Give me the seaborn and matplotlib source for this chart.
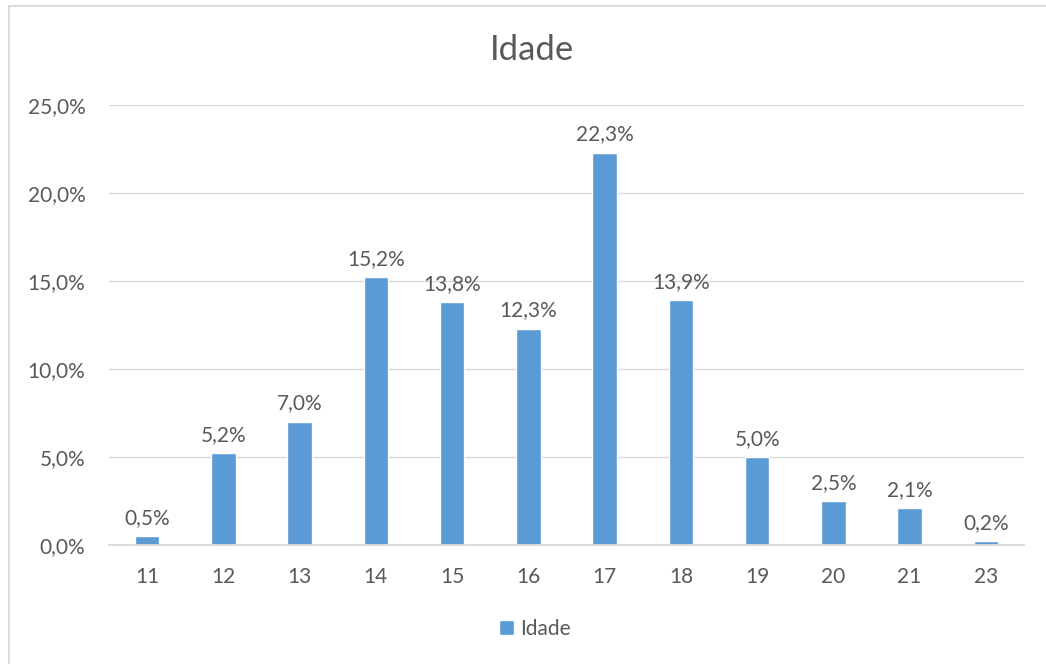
import seaborn as sns
import pandas as pd
import matplotlib.pyplot as plt
from matplotlib.patches import Rectangle

idades = ['11', '12', '13', '14', '15', '16', '17', '18', '19', '20', '21', '23']
percentuais = [0.5, 5.2, 7.0, 15.2, 13.8, 12.3, 22.3, 13.9, 5.0, 2.5, 2.1, 0.2]
yticks = [0, 5, 10, 15, 20, 25]

cinza = '#595959'
azul = '#5B9BD5'

sns.set_style('white')
plt.rcParams['font.family'] = ['Lato', 'DejaVu Sans']

df = pd.DataFrame({'idade': idades, 'pct': percentuais})

fig = plt.figure(figsize=(10.46, 6.64), dpi=100)
fig.patches.append(Rectangle((9 / 1046, -0.1), 1.2, 1 - 6 / 664 + 0.1, transform=fig.transFigure,
                             fill=False, edgecolor='#D9D9D9', linewidth=1.3))
ax = fig.add_axes([109 / 1046, 1 - 545 / 664, (1024 - 109) / 1046, 440 / 664])

sns.barplot(data=df, x='idade', y='pct', color=azul, width=0.32, saturation=1,
            label='Idade', ax=ax)

ax.set_ylim(0, 25)
ax.set_yticks(yticks)
ax.set_yticklabels([f'{v:.1f}%'.replace('.', ',') for v in yticks])
ax.yaxis.grid(True, color='#D9D9D9', linewidth=1)
ax.set_axisbelow(True)
for s in ['top', 'right', 'left']:
    ax.spines[s].set_visible(False)
ax.spines['bottom'].set_color('#D9D9D9')
ax.spines['bottom'].set_linewidth(1.3)
ax.tick_params(axis='both', length=0, labelsize=15, colors=cinza)
ax.tick_params(axis='y', pad=17)
ax.tick_params(axis='x', pad=16)
ax.set_xlabel('')
ax.set_ylabel('')

for i, v in enumerate(percentuais):
    ax.annotate(f'{v:.1f}%'.replace('.', ','), (i, v), xytext=(0, 6), textcoords='offset points',
                ha='center', va='bottom', fontsize=15, color=cinza)

fig.text(532 / 1046, 1 - 50 / 664, 'Idade', ha='center', va='center', fontsize=25, color=cinza)

ax.legend(loc='center', bbox_to_anchor=(535 / 1046, 1 - 629 / 664), bbox_transform=fig.transFigure,
          frameon=False, fontsize=15, labelcolor=cinza, handlelength=0.7, handleheight=0.7,
          handletextpad=0.3)

fig.savefig('out.png', dpi=100)
